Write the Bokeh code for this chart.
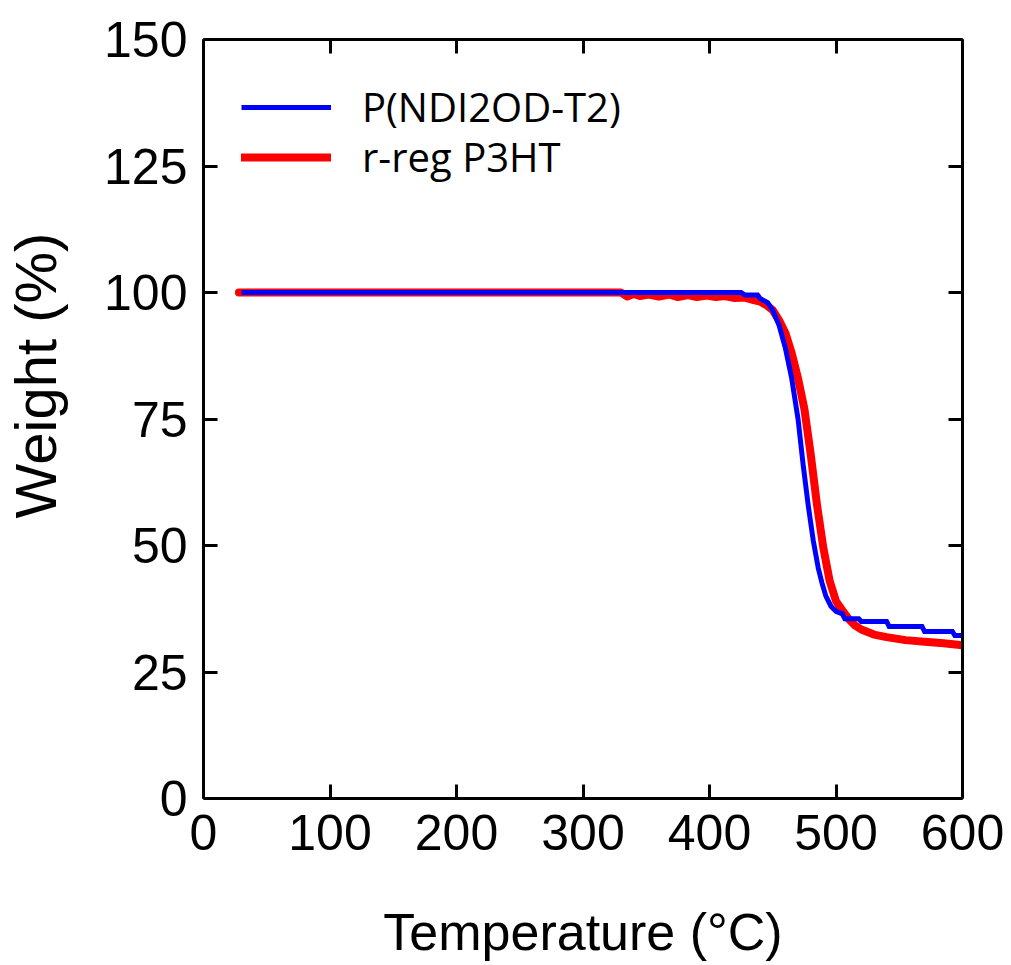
from bokeh.plotting import figure
from bokeh.models import LinearAxis, Legend, LegendItem, Range1d, FixedTicker
from bokeh.embed import file_html
from bokeh.resources import INLINE

# ---- data ----
blue_T = [30, 425, 428, 438, 440, 446, 450, 455, 460, 465, 470, 474, 478, 482, 486, 489,
          492, 496, 500, 505, 507, 518, 520, 540, 542, 568, 570, 592, 594, 600]
blue_W = [100, 100, 99.5, 99.5, 98.8, 98.0, 96.5, 93.5, 89, 83, 75, 66, 58, 51, 45.5, 42.5,
          40, 38, 37, 36.5, 35.5, 35.5, 35.0, 35.0, 34.0, 34.0, 33.0, 33.0, 32.2, 32.2]

red_T = [28, 100, 200, 330, 335, 340, 345, 352, 360, 368, 375, 383, 390, 398, 405, 412, 420,
         428, 435, 440, 445, 450, 455, 460, 465, 470, 475, 480, 485, 490, 495, 500, 505, 510,
         515, 520, 530, 540, 555, 570, 585, 600]
red_W = [100, 100, 100, 100, 99.2, 99.7, 99.3, 99.6, 99.2, 99.6, 99.1, 99.5, 99.1, 99.4,
         99.1, 99.3, 98.9, 99.0, 98.5, 98.2, 97.5, 96.5, 94.5, 92, 88, 83, 77, 68, 58, 49.5,
         43, 39, 37.2, 35.5, 34.2, 33.4, 32.4, 31.9, 31.3, 31.0, 30.7, 30.3]

series_names = ["P(NDI2OD-T2)", "r-reg P3HT"]
x_ticks = [0, 100, 200, 300, 400, 500, 600]
y_ticks = [0, 25, 50, 75, 100, 125, 150]
x_title = "Temperature (°C)"
y_title = "Weight (%)"

FONT = "Liberation Sans"

p = figure(width=1011, height=965, output_backend="svg", toolbar_location=None,
           x_range=Range1d(0, 600), y_range=Range1d(0, 150),
           min_border_left=203, min_border_top=39, min_border_right=49, min_border_bottom=167)
p.xgrid.visible = False
p.ygrid.visible = False
p.outline_line_color = None
p.background_fill_color = "white"
p.border_fill_color = "white"

r_red = p.line(red_T, red_W, line_color="#ff0000", line_width=8, line_join="round", line_cap="round")
r_blue = p.line(blue_T, blue_W, line_color="#0000ff", line_width=5, line_join="miter")

def style(ax, labels=True):
    ax.axis_line_width = 3
    ax.axis_line_color = "black"
    ax.major_tick_in = 14
    ax.major_tick_out = 0
    ax.minor_tick_in = 7
    ax.minor_tick_out = 0
    ax.major_tick_line_width = 3
    ax.minor_tick_line_width = 3
    ax.major_tick_line_color = "black"
    ax.minor_tick_line_color = "black"
    ax.major_label_text_font = FONT
    ax.major_label_text_font_size = "50px"
    ax.major_label_text_color = "black"
    ax.axis_label_text_font = FONT
    ax.axis_label_text_font_size = "52px"
    ax.axis_label_text_font_style = "normal"
    ax.axis_label_text_color = "black"
    if not labels:
        ax.major_label_text_font_size = "0px"
        ax.major_label_standoff = 0

p.xaxis.ticker = FixedTicker(ticks=x_ticks, num_minor_ticks=2)
p.yaxis.ticker = FixedTicker(ticks=y_ticks, num_minor_ticks=2)
style(p.xaxis[0])
style(p.yaxis[0])
p.xaxis.axis_label = x_title
# leading em/en space lifts the y title slightly above centre, as in the reference
p.yaxis.axis_label = "\u2003\u2002" + y_title
p.yaxis.axis_label_text_font_size = "58px"
p.xaxis.major_label_standoff = 16
p.yaxis.major_label_standoff = 16
p.xaxis.axis_label_standoff = 50
p.yaxis.axis_label_standoff = 33

top = LinearAxis(ticker=FixedTicker(ticks=x_ticks, num_minor_ticks=2))
style(top, labels=False)
p.add_layout(top, "above")
right = LinearAxis(ticker=FixedTicker(ticks=y_ticks, num_minor_ticks=2))
style(right, labels=False)
p.add_layout(right, "right")

common = dict(padding=0, margin=0, spacing=0, glyph_width=90, glyph_height=50,
              label_height=50, label_standoff=31, label_text_font="Open Sans",
              label_text_font_size="40px", label_text_color="black",
              border_line_alpha=0, background_fill_alpha=0)
leg1 = Legend(items=[LegendItem(label=series_names[0], renderers=[r_blue])],
              location=(38, 664), **common)
leg2 = Legend(items=[LegendItem(label=series_names[1], renderers=[r_red])],
              location=(38, 614), **common)
p.add_layout(leg1)
p.add_layout(leg2)

open("out.html", "w").write(file_html(p, INLINE))
